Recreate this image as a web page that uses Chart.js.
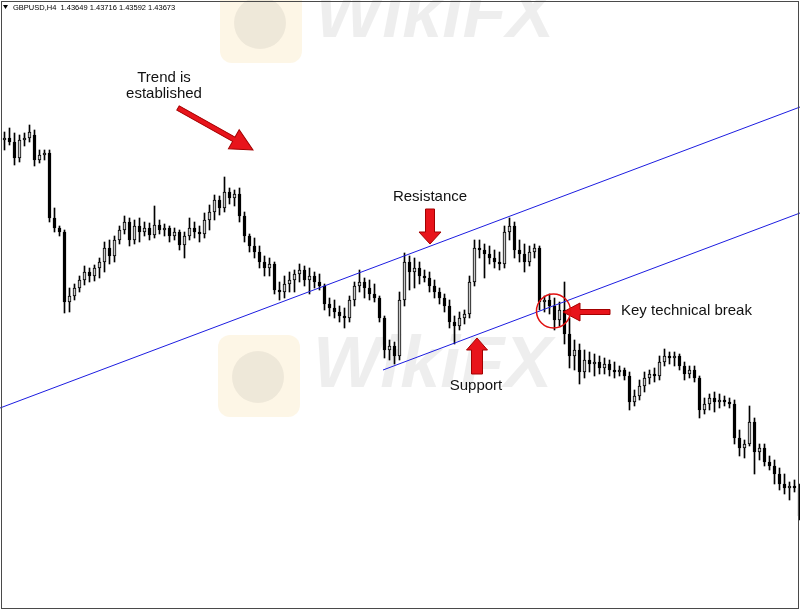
<!DOCTYPE html>
<html>
<head>
<meta charset="utf-8">
<script src="https://cdn.jsdelivr.net/npm/chart.js@4"></script>
<style>
body { margin: 0; background: #fff; }
canvas { display: block; }
</style>
</head>
<body>
<canvas id="grafico" width="800" height="610"></canvas>
<script>
var simbolo = 'GBPUSD,H4';
var cotacao = ['1.43649', '1.43716', '1.43592', '1.43673'];

// barras H4 (abertura, maxima, minima, fechamento)
var abertura = [
  1.4760, 1.4762, 1.4758, 1.4742, 1.4760, 1.4762, 1.4765, 1.4740, 1.4745, 1.4747,
  1.4682, 1.4672, 1.4668, 1.4598, 1.4604, 1.4612, 1.4620, 1.4628, 1.4624, 1.4632,
  1.4638, 1.4652, 1.4644, 1.4660, 1.4670, 1.4678, 1.4660, 1.4674, 1.4668, 1.4672,
  1.4665, 1.4675, 1.4670, 1.4672, 1.4664, 1.4668, 1.4655, 1.4664, 1.4672, 1.4668,
  1.4666, 1.4680, 1.4688, 1.4700, 1.4692, 1.4708, 1.4702, 1.4706, 1.4684, 1.4664,
  1.4654, 1.4648, 1.4638, 1.4632, 1.4636, 1.4610, 1.4608, 1.4616, 1.4620, 1.4626,
  1.4630, 1.4620, 1.4624, 1.4618, 1.4614, 1.4596, 1.4592, 1.4588, 1.4584, 1.4582,
  1.4600, 1.4614, 1.4618, 1.4612, 1.4606, 1.4602, 1.4582, 1.4550, 1.4554, 1.4544,
  1.4600, 1.4638, 1.4628, 1.4632, 1.4624, 1.4622, 1.4614, 1.4608, 1.4602, 1.4594,
  1.4578, 1.4574, 1.4582, 1.4586, 1.4618, 1.4652, 1.4650, 1.4646, 1.4642, 1.4638,
  1.4636, 1.4668, 1.4674, 1.4650, 1.4646, 1.4638, 1.4648, 1.4652, 1.4598, 1.4600,
  1.4594, 1.4580, 1.4590, 1.4566, 1.4544, 1.4550, 1.4528, 1.4540, 1.4536, 1.4538,
  1.4532, 1.4536, 1.4530, 1.4528, 1.4530, 1.4524, 1.4498, 1.4504, 1.4514, 1.4522,
  1.4526, 1.4524, 1.4538, 1.4544, 1.4542, 1.4544, 1.4534, 1.4526, 1.4530, 1.4522,
  1.4490, 1.4496, 1.4502, 1.4498, 1.4500, 1.4498, 1.4496, 1.4462, 1.4452, 1.4456,
  1.4478, 1.4448, 1.4452, 1.4438, 1.4434, 1.4426, 1.4416, 1.4412, 1.4414, 1.4412
];
var maxima = [
  1.4768, 1.4772, 1.4767, 1.4765, 1.4767, 1.4775, 1.4770, 1.4750, 1.4750, 1.4750,
  1.4692, 1.4674, 1.4670, 1.4612, 1.4616, 1.4624, 1.4634, 1.4632, 1.4635, 1.4642,
  1.4658, 1.4660, 1.4664, 1.4674, 1.4684, 1.4682, 1.4680, 1.4682, 1.4678, 1.4677,
  1.4694, 1.4680, 1.4676, 1.4674, 1.4672, 1.4670, 1.4668, 1.4682, 1.4678, 1.4674,
  1.4687, 1.4695, 1.4705, 1.4704, 1.4723, 1.4712, 1.4710, 1.4712, 1.4688, 1.4666,
  1.4662, 1.4654, 1.4644, 1.4642, 1.4638, 1.4618, 1.4624, 1.4628, 1.4630, 1.4636,
  1.4634, 1.4632, 1.4628, 1.4626, 1.4616, 1.4602, 1.4600, 1.4594, 1.4592, 1.4604,
  1.4618, 1.4630, 1.4622, 1.4620, 1.4616, 1.4604, 1.4584, 1.4560, 1.4558, 1.4608,
  1.4647, 1.4644, 1.4642, 1.4638, 1.4630, 1.4628, 1.4620, 1.4612, 1.4606, 1.4600,
  1.4584, 1.4588, 1.4590, 1.4624, 1.4660, 1.4660, 1.4656, 1.4654, 1.4650, 1.4648,
  1.4674, 1.4682, 1.4678, 1.4660, 1.4656, 1.4654, 1.4656, 1.4654, 1.4604, 1.4606,
  1.4602, 1.4598, 1.4618, 1.4582, 1.4560, 1.4556, 1.4550, 1.4548, 1.4546, 1.4544,
  1.4542, 1.4540, 1.4538, 1.4534, 1.4532, 1.4528, 1.4510, 1.4520, 1.4528, 1.4530,
  1.4532, 1.4544, 1.4551, 1.4548, 1.4548, 1.4546, 1.4538, 1.4534, 1.4534, 1.4524,
  1.4502, 1.4506, 1.4508, 1.4506, 1.4504, 1.4502, 1.4500, 1.4470, 1.4460, 1.4494,
  1.4482, 1.4456, 1.4456, 1.4444, 1.4440, 1.4432, 1.4426, 1.4418, 1.4420, 1.4416
];
var minima = [
  1.4750, 1.4755, 1.4735, 1.4738, 1.4754, 1.4758, 1.4734, 1.4737, 1.4740, 1.4678,
  1.4668, 1.4664, 1.4587, 1.4588, 1.4600, 1.4608, 1.4615, 1.4618, 1.4619, 1.4622,
  1.4628, 1.4636, 1.4638, 1.4656, 1.4666, 1.4654, 1.4656, 1.4658, 1.4664, 1.4660,
  1.4662, 1.4666, 1.4664, 1.4658, 1.4660, 1.4650, 1.4642, 1.4660, 1.4662, 1.4658,
  1.4662, 1.4670, 1.4680, 1.4685, 1.4688, 1.4696, 1.4694, 1.4678, 1.4658, 1.4648,
  1.4642, 1.4632, 1.4624, 1.4624, 1.4606, 1.4600, 1.4602, 1.4608, 1.4608, 1.4618,
  1.4614, 1.4606, 1.4612, 1.4610, 1.4590, 1.4584, 1.4582, 1.4578, 1.4572, 1.4578,
  1.4594, 1.4608, 1.4602, 1.4600, 1.4598, 1.4578, 1.4542, 1.4540, 1.4536, 1.4540,
  1.4594, 1.4610, 1.4612, 1.4616, 1.4618, 1.4608, 1.4602, 1.4596, 1.4588, 1.4572,
  1.4556, 1.4570, 1.4576, 1.4582, 1.4614, 1.4642, 1.4622, 1.4636, 1.4632, 1.4630,
  1.4632, 1.4660, 1.4642, 1.4638, 1.4628, 1.4634, 1.4642, 1.4590, 1.4588, 1.4586,
  1.4570, 1.4574, 1.4556, 1.4532, 1.4530, 1.4516, 1.4522, 1.4528, 1.4524, 1.4526,
  1.4526, 1.4524, 1.4522, 1.4524, 1.4520, 1.4490, 1.4494, 1.4500, 1.4508, 1.4516,
  1.4518, 1.4520, 1.4534, 1.4536, 1.4534, 1.4530, 1.4520, 1.4522, 1.4518, 1.4482,
  1.4486, 1.4490, 1.4488, 1.4492, 1.4494, 1.4492, 1.4456, 1.4444, 1.4442, 1.4454,
  1.4426, 1.4440, 1.4434, 1.4430, 1.4416, 1.4410, 1.4406, 1.4400, 1.4408, 1.4380
];
var fechamento = [
  1.4762, 1.4758, 1.4742, 1.4760, 1.4762, 1.4768, 1.4740, 1.4745, 1.4747, 1.4682,
  1.4672, 1.4668, 1.4598, 1.4604, 1.4612, 1.4620, 1.4628, 1.4624, 1.4632, 1.4638,
  1.4652, 1.4644, 1.4660, 1.4670, 1.4678, 1.4660, 1.4674, 1.4668, 1.4672, 1.4665,
  1.4675, 1.4670, 1.4672, 1.4664, 1.4668, 1.4655, 1.4664, 1.4672, 1.4668, 1.4666,
  1.4680, 1.4688, 1.4700, 1.4692, 1.4708, 1.4702, 1.4706, 1.4684, 1.4664, 1.4654,
  1.4648, 1.4638, 1.4632, 1.4636, 1.4610, 1.4608, 1.4616, 1.4620, 1.4626, 1.4630,
  1.4620, 1.4624, 1.4618, 1.4614, 1.4596, 1.4592, 1.4588, 1.4584, 1.4582, 1.4600,
  1.4614, 1.4618, 1.4612, 1.4606, 1.4602, 1.4582, 1.4550, 1.4554, 1.4544, 1.4600,
  1.4638, 1.4628, 1.4632, 1.4624, 1.4622, 1.4614, 1.4608, 1.4602, 1.4594, 1.4578,
  1.4574, 1.4582, 1.4586, 1.4618, 1.4652, 1.4650, 1.4646, 1.4642, 1.4638, 1.4636,
  1.4668, 1.4674, 1.4650, 1.4646, 1.4638, 1.4648, 1.4652, 1.4598, 1.4600, 1.4594,
  1.4580, 1.4590, 1.4566, 1.4544, 1.4550, 1.4528, 1.4540, 1.4536, 1.4538, 1.4532,
  1.4536, 1.4530, 1.4528, 1.4530, 1.4524, 1.4498, 1.4504, 1.4514, 1.4522, 1.4526,
  1.4524, 1.4538, 1.4544, 1.4542, 1.4544, 1.4534, 1.4526, 1.4530, 1.4522, 1.4490,
  1.4496, 1.4502, 1.4498, 1.4500, 1.4498, 1.4496, 1.4462, 1.4452, 1.4456, 1.4478,
  1.4448, 1.4452, 1.4438, 1.4434, 1.4426, 1.4416, 1.4412, 1.4414, 1.4412, 1.4384
];

// linhas de tendencia (indice da barra, preco)
var linhaResistencia = [{x: -0.9, y: 1.4492}, {x: 159.1, y: 1.4793}];
var linhaSuporte = [{x: 75.7, y: 1.4530}, {x: 159.1, y: 1.4687}];

var pavios = [];
var corpos = [];
var coresCorpo = [];
for (var i = 0; i < abertura.length; i++) {
    pavios.push({x: i, y: [minima[i], maxima[i]]});
    corpos.push({x: i, y: [abertura[i], fechamento[i]]});
    coresCorpo.push(fechamento[i] > abertura[i] ? '#c8c8c8' : '#000000');
}

function seta(ctx, x1, y1, x2, y2, haste, cabecaC, cabecaL) {
    var ang = Math.atan2(y2 - y1, x2 - x1);
    var len = Math.hypot(x2 - x1, y2 - y1);
    ctx.save();
    ctx.translate(x1, y1);
    ctx.rotate(ang);
    ctx.beginPath();
    ctx.moveTo(0, -haste / 2);
    ctx.lineTo(len - cabecaC, -haste / 2);
    ctx.lineTo(len - cabecaC, -cabecaL / 2);
    ctx.lineTo(len, 0);
    ctx.lineTo(len - cabecaC, cabecaL / 2);
    ctx.lineTo(len - cabecaC, haste / 2);
    ctx.lineTo(0, haste / 2);
    ctx.closePath();
    ctx.fillStyle = '#e8141b';
    ctx.fill();
    ctx.strokeStyle = '#a30000';
    ctx.lineWidth = 1;
    ctx.stroke();
    ctx.restore();
}

function marcaDagua(ctx, x, y, yTexto) {
    ctx.save();
    ctx.fillStyle = 'rgba(245, 215, 140, 0.22)';
    ctx.beginPath();
    ctx.roundRect(x, y, 82, 82, 12);
    ctx.fill();
    ctx.fillStyle = 'rgba(0, 0, 0, 0.06)';
    ctx.beginPath();
    ctx.arc(x + 40, y + 42, 26, 0, Math.PI * 2);
    ctx.fill();
    ctx.fillStyle = 'rgba(0, 0, 0, 0.065)';
    ctx.font = 'italic bold 72px "Liberation Sans"';
    ctx.textBaseline = 'alphabetic';
    ctx.fillText('WikiFX', x + 95, yTexto);
    ctx.restore();
}

var pluginFundo = {
    id: 'fundo',
    beforeDatasetsDraw: function (chart) {
        var ctx = chart.ctx;
        marcaDagua(ctx, 220, -19, 37);
        marcaDagua(ctx, 218, 335, 387);
    }
};

var pluginAnotacoes = {
    id: 'anotacoes',
    afterDraw: function (chart) {
        var ctx = chart.ctx;
        var sx = chart.scales.x, sy = chart.scales.y;
        function px(v) { return sx.getPixelForValue(v); }
        function py(v) { return sy.getPixelForValue(v); }

        ctx.save();
        // moldura
        ctx.strokeStyle = '#4a4a4a';
        ctx.lineWidth = 1;
        ctx.strokeRect(1.5, 1.5, 797, 607);

        // cabecalho
        ctx.fillStyle = '#000';
        ctx.beginPath();
        ctx.moveTo(3, 5);
        ctx.lineTo(8, 5);
        ctx.lineTo(5.5, 9);
        ctx.closePath();
        ctx.fill();
        ctx.font = '7.5px "Liberation Sans"';
        ctx.textBaseline = 'alphabetic';
        ctx.textAlign = 'left';
        ctx.fillText(simbolo + '  ' + cotacao.join(' '), 13, 10);

        // textos
        ctx.font = '15px "Liberation Sans"';
        ctx.fillStyle = '#111';
        ctx.textBaseline = 'middle';
        ctx.textAlign = 'center';
        ctx.fillText('Trend is', px(31.9), py(1.4822));
        ctx.fillText('established', px(31.9), py(1.4806));
        ctx.fillText('Resistance', px(85.1), py(1.4703));
        ctx.fillText('Support', px(94.3), py(1.4514));
        ctx.textAlign = 'left';
        ctx.fillText('Key technical break', px(123.3), py(1.4589));

        // setas
        seta(ctx, px(34.7), py(1.4792), px(49.7), py(1.4750), 5, 22, 22);
        seta(ctx, px(85.1), py(1.4691), px(85.1), py(1.4656), 9, 12, 22);
        seta(ctx, px(94.5), py(1.4526), px(94.5), py(1.4562), 11, 12, 21);
        seta(ctx, px(121.1), py(1.4588), px(111.7), py(1.4588), 5, 17, 18);

        // circulo do rompimento
        ctx.strokeStyle = '#e01010';
        ctx.lineWidth = 1.5;
        ctx.beginPath();
        ctx.arc(px(109.8), py(1.4589), 17, 0, Math.PI * 2);
        ctx.stroke();
        ctx.restore();
    }
};

var ctx = document.getElementById('grafico').getContext('2d');
var grafico = new Chart(ctx, {
    type: 'bar',
    data: {
        datasets: [
            {
                type: 'line',
                data: linhaResistencia,
                borderColor: '#1c1ce0',
                borderWidth: 1,
                pointRadius: 0,
                order: 0
            },
            {
                type: 'line',
                data: linhaSuporte,
                borderColor: '#1c1ce0',
                borderWidth: 1,
                pointRadius: 0,
                order: 0
            },
            {
                data: pavios,
                backgroundColor: '#000',
                barThickness: 1,
                grouped: false,
                order: 2
            },
            {
                data: corpos,
                backgroundColor: coresCorpo,
                borderColor: '#000',
                borderWidth: 1,
                borderSkipped: false,
                barThickness: 3,
                grouped: false,
                order: 1
            }
        ]
    },
    options: {
        responsive: false,
        animation: false,
        layout: { padding: 0 },
        plugins: {
            legend: { display: false },
            tooltip: { enabled: false }
        },
        scales: {
            x: { type: 'linear', min: -0.9, max: 159.1, offset: false, display: false },
            y: { min: 1.4290, max: 1.4900, display: false }
        }
    },
    plugins: [pluginFundo, pluginAnotacoes]
});
</script>
</body>
</html>
